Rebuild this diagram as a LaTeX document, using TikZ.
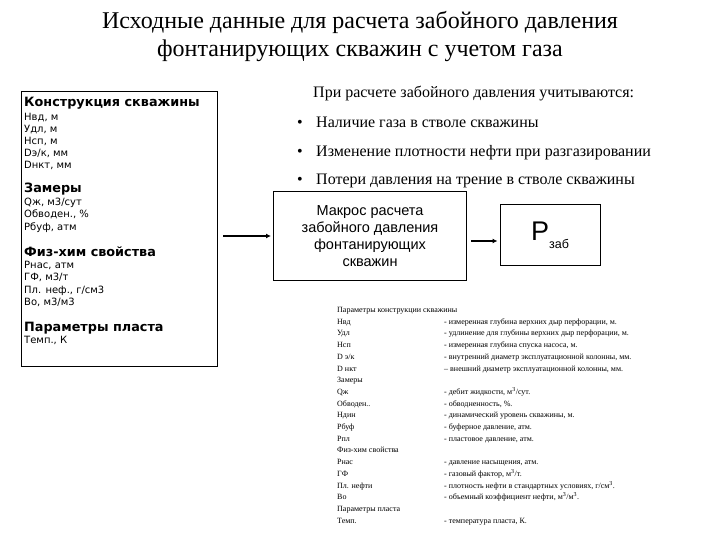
\documentclass[tikz,border=0pt]{standalone}
\usepackage{fontspec}
\setmainfont{Liberation Serif}
\newfontfamily\dejavu{DejaVu Sans}
\newfontfamily\arialf{Liberation Sans}
\usetikzlibrary{arrows.meta}
\tikzset{
  box/.style={draw, line width=1pt, inner sep=0pt},
  arr/.style={line width=2.2pt, -{Latex[length=5pt,width=5pt]}},
  litem/.style={anchor=base west, inner sep=0pt, font=\dejavu\fontsize{10}{11}\selectfont},
  lhead/.style={anchor=base west, inner sep=0pt, font=\dejavu\bfseries\fontsize{12.8}{14}\selectfont},
  bul/.style={anchor=base west, inner sep=0pt, font=\fontsize{16}{18}\selectfont},
  tab/.style={anchor=base west, inner sep=0pt, font=\fontsize{8}{9}\selectfont},
}
\begin{document}
\begin{tikzpicture}[x=1pt,y=-1pt]
\useasboundingbox (0,0) rectangle (720,540);
% title
\node[align=center, inner sep=0pt, font=\fontsize{24}{28}\selectfont] (title) at (360,37)
  {Исходные данные для расчета забойного давления\\фонтанирующих скважин с учетом газа};
% left box
\node[box, anchor=north west, minimum width=196pt, minimum height=275pt] (params) at (21,91) {};
\node[lhead] (h1) at (24,107) {Конструкция скважины};
\foreach \t/\y [count=\i] in {{Нвд, м}/117, {Удл, м}/129, {Нсп, м}/141, {Dэ/к, мм}/153, {Dнкт, мм}/165}
  \node[litem] (a\i) at (24,\y+3.5) {\t};
\node[lhead] (h2) at (24,193) {Замеры};
\foreach \t/\y [count=\i] in {{Qж, м3/сут}/202, {Обводен., \%}/214, {Рбуф, атм}/227}
  \node[litem] (b\i) at (24,\y+3.5) {\t};
\node[lhead] (h3) at (24,256) {Физ-хим свойства};
\foreach \t/\y [count=\i] in {{Рнас, атм}/265, {ГФ, м3/т}/277, {Пл. неф., г/см3}/290, {Во, м3/м3}/302}
  \node[litem] (c\i) at (24,\y+3.5) {\t};
\node[lhead] (h4) at (24,331) {Параметры пласта};
\node[litem] (d1) at (24,343.5) {Темп., К};
% macro box
\node[box, minimum width=193pt, minimum height=88pt, align=center,
      font=\arialf\fontsize{14.5}{17}\selectfont] (macro) at (370,236)
  {Макрос расчета\\забойного давления\\фонтанирующих\\скважин};
% result box
\node[box, minimum width=100pt, minimum height=60pt] (res) at (550,235)
  {\arialf\fontsize{27}{28}\selectfont P\raisebox{-0.3em}{\fontsize{12.5}{14}\selectfont заб}};
% arrows
\draw[arr] ([xshift=5pt]params.east |- macro.west) -- ([xshift=-2pt]macro.west);
\draw[arr] ([xshift=4pt,yshift=-6pt]macro.east |- res.west) -- ([xshift=-2pt,yshift=-6pt]res.west);
% bullets
\node[bul] (q0) at (313,98) {При расчете забойного давления учитываются:};
\foreach \t/\y [count=\i] in {{Наличие газа в стволе скважины}/128, {Изменение плотности нефти при разгазировании}/157, {Потери давления на трение в стволе скважины}/185}{
  \node[bul] (qb\i) at (297,\y) {\textbullet};
  \node[bul] (q\i) at (316,\y) {\t};
}
% table
\foreach \a/\b [count=\i from 0] in {
  {Параметры конструкции скважины}/{},
  {Нвд}/{- измеренная глубина верхних дыр перфорации, м.},
  {Удл}/{- удлинение для глубины верхних дыр перфорации, м.},
  {Нсп}/{- измеренная глубина спуска насоса, м.},
  {D э/к}/{- внутренний диаметр эксплуатационной колонны, мм.},
  {D нкт}/{– внешний диаметр эксплуатационной колонны, мм.},
  {Замеры}/{},
  {Qж}/{- дебит жидкости, м\textsuperscript{3}/сут.},
  {Обводен..}/{- обводненность, \%.},
  {Ндин}/{- динамический уровень скважины, м.},
  {Рбуф}/{- буферное давление, атм.},
  {Рпл}/{- пластовое давление, атм.},
  {Физ-хим свойства}/{},
  {Рнас}/{- давление насыщения, атм.},
  {ГФ}/{- газовый фактор, м\textsuperscript{3}/т.},
  {Пл. нефти}/{- плотность нефти в стандартных условиях, г/см\textsuperscript{3}.},
  {Во}/{- объемный коэффициент нефти, м\textsuperscript{3}/м\textsuperscript{3}.},
  {Параметры пласта}/{},
  {Темп.}/{- температура пласта, К.}}{
  \node[tab] (ta\i) at (337,312.5+11.7*\i) {\a};
  \node[tab] (tb\i) at (444,312.5+11.7*\i) {\b};
}
\end{tikzpicture}
\end{document}
